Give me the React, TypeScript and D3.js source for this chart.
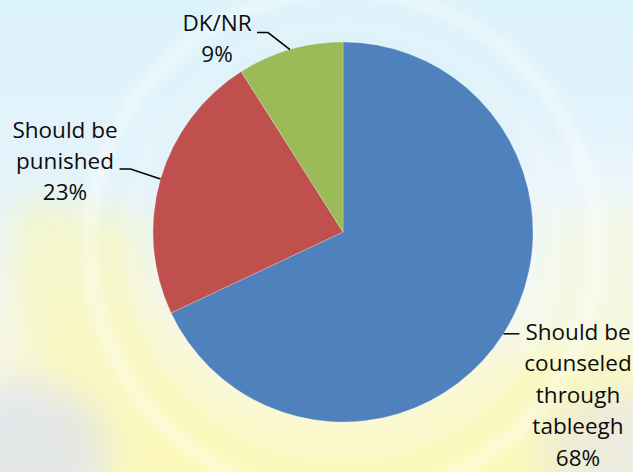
import React from "react";
import * as d3 from "d3";

const categories = ["Should be counseled through tableegh", "Should be punished", "DK/NR"];
const values = [68, 23, 9];
const labelLines = [
  ["Should be", "counseled", "through", "tableegh", "68%"],
  ["Should be", "punished", "23%"],
  ["DK/NR", "9%"],
];
const colors = ["#4F81BD", "#C0504D", "#9BBB59"];

const W = 633;
const H = 472;
const cx = 343;
const cy = 232;
const R = 190;
const fontSize = 22.5;
const lineH = 31.4;

const labelLayout = [
  { tx: 578, ty: 340, elbow: [14, 0], tail: 2 },
  { tx: 65, ty: 137.5, elbow: [-30, -10], tail: -11 },
  { tx: 217, ty: 31, elbow: [-22, -17], tail: -11 },
];

export default function App() {
  const pie = d3
    .pie<number>()
    .sort(null)
    .value((d) => d)
    .startAngle(0)
    .endAngle(2 * Math.PI);
  const arcs = pie(values);
  const arcGen = d3.arc<d3.PieArcDatum<number>>().innerRadius(0).outerRadius(R);
  const yellowBand =
    d3.arc()({ innerRadius: 200, outerRadius: 330, startAngle: Math.PI * 0.45, endAngle: Math.PI * 1.55 } as any) || "";

  return (
    <div style={{ position: "absolute", left: 0, top: 0, width: W, height: H, overflow: "hidden" }}>
      <svg width={W} height={H} style={{ display: "block" }}>
        <defs>
          <linearGradient id="bg" x1="0" y1="0" x2="0" y2="1">
            <stop offset="0" stopColor="#dcf2fa" />
            <stop offset="0.4" stopColor="#e4f3fb" />
            <stop offset="0.6" stopColor="#f1f6f4" />
            <stop offset="0.8" stopColor="#f9f8dc" />
            <stop offset="1" stopColor="#fbfacc" />
          </linearGradient>
          <filter id="blur" filterUnits="userSpaceOnUse" x={-100} y={-100} width={W + 200} height={H + 200}>
            <feGaussianBlur stdDeviation="18" />
          </filter>
          <filter id="blur2" filterUnits="userSpaceOnUse" x={-100} y={-100} width={W + 200} height={H + 200}>
            <feGaussianBlur stdDeviation="6" />
          </filter>
        </defs>
        <rect x={0} y={0} width={W} height={H} fill="url(#bg)" />
        <g filter="url(#blur)">
          <path d={yellowBand} transform={`translate(${cx},250)`} fill="#fcf7a8" opacity={0.55} />
          <ellipse cx={20} cy={450} rx={90} ry={70} fill="#d6dcf6" opacity={0.6} />
          <ellipse cx={620} cy={450} rx={80} ry={60} fill="#dfe0f4" opacity={0.5} />
          <rect x={500} y={150} width={160} height={200} fill="#f4f9fd" opacity={0.5} />
        </g>
        <g filter="url(#blur2)">
          <circle cx={cx} cy={245} r={254} fill="none" stroke="#ffffff" strokeWidth={12} opacity={0.5} />
          <circle cx={cx} cy={240} r={214} fill="none" stroke="#ffffff" strokeWidth={8} opacity={0.25} />
        </g>

        <g transform={`translate(${cx},${cy})`}>
          {arcs.map((a, i) => (
            <path key={categories[i]} d={arcGen(a) || ""} fill={colors[i]} stroke="#ffffff" strokeOpacity={0.4} strokeWidth={0.6} />
          ))}
        </g>

        {arcs.map((a, i) => {
          const mid = (a.startAngle + a.endAngle) / 2;
          const ex = cx + R * Math.sin(mid);
          const ey = cy - R * Math.cos(mid);
          const L = labelLayout[i];
          const bx = ex + L.elbow[0];
          const by = ey + L.elbow[1];
          const tx2 = bx + L.tail;
          return (
            <g key={"lbl" + i}>
              <polyline
                points={`${ex},${ey} ${bx},${by} ${tx2},${by}`}
                fill="none"
                stroke="#000"
                strokeWidth={1.5}
              />
              <text
                x={L.tx}
                y={L.ty}
                textAnchor="middle"
                fontFamily="'Open Sans', sans-serif"
                fontSize={fontSize}
                fill="#0d0d0d"
              >
                {labelLines[i].map((ln, j) => (
                  <tspan key={j} x={L.tx} y={L.ty + j * lineH}>
                    {ln}
                  </tspan>
                ))}
              </text>
            </g>
          );
        })}
      </svg>
    </div>
  );
}
